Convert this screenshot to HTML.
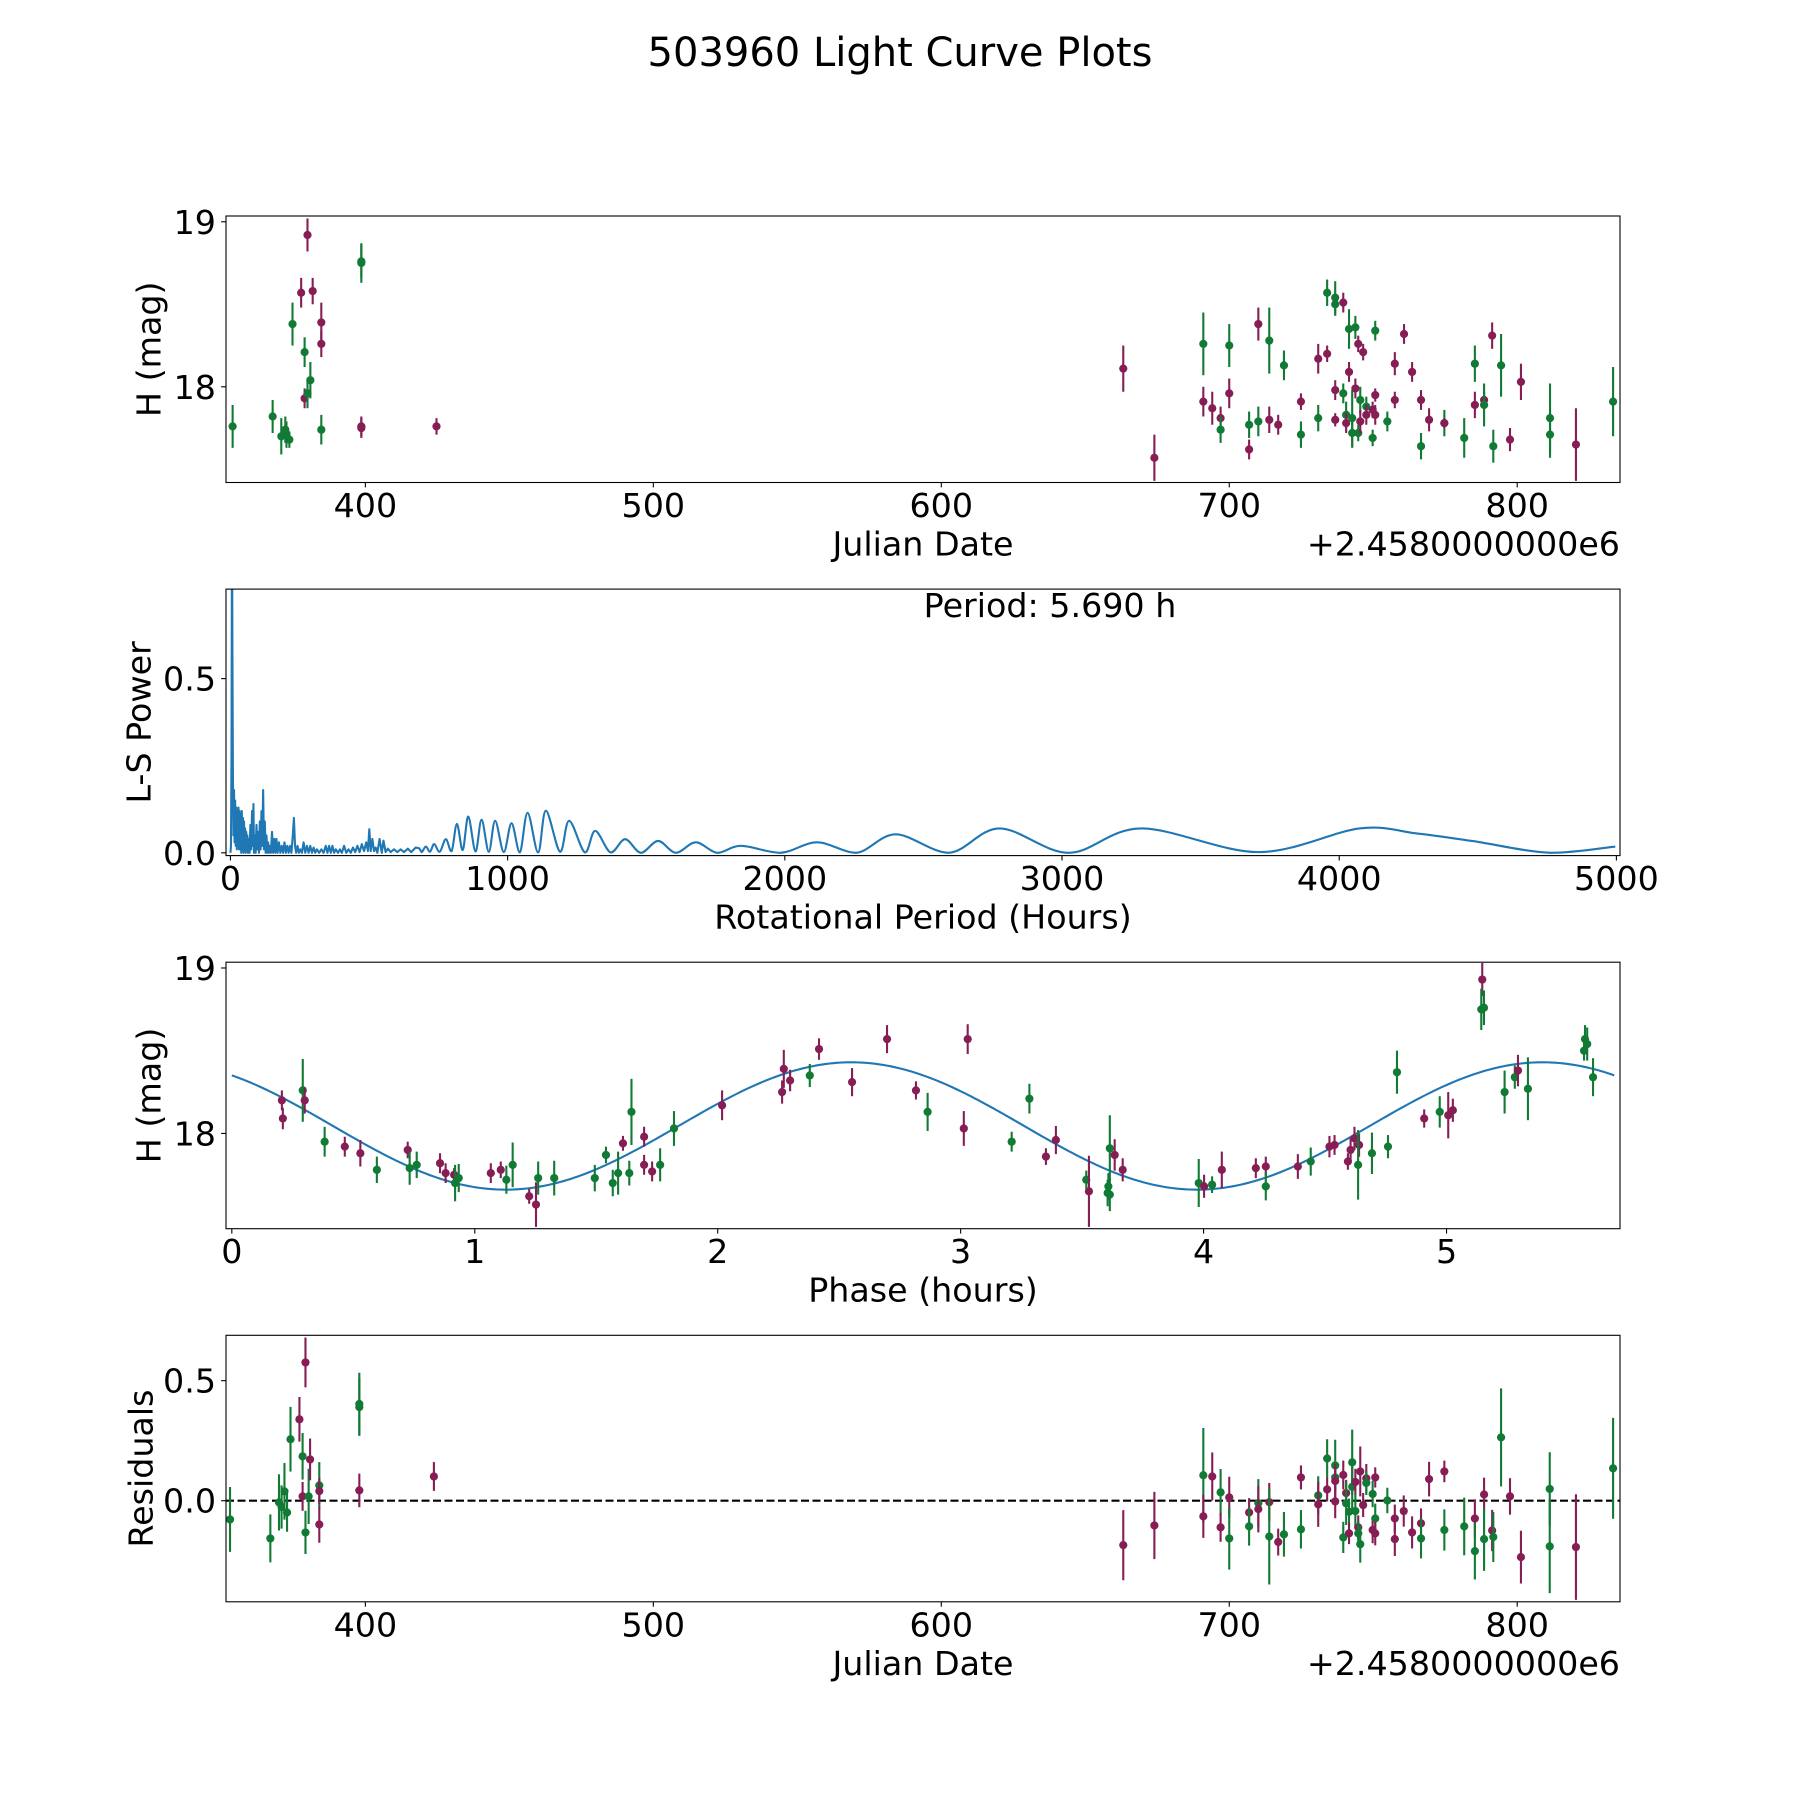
<!DOCTYPE html>
<html><head><meta charset="utf-8"><title>503960 Light Curve Plots</title>
<style>
html,body{margin:0;padding:0;background:#fff;}
svg{display:block;font-family:"DejaVu Sans","Liberation Sans",sans-serif;}
</style></head>
<body>
<svg id="fig" xmlns="http://www.w3.org/2000/svg" width="1800" height="1800" viewBox="0 0 1800 1800">
<rect x="0" y="0" width="1800" height="1800" fill="#fff"/>
<text x="900" y="66" font-size="40" text-anchor="middle" fill="#000">503960 Light Curve Plots</text>
</svg>
<script>
// ---------- Panel 1: light curve vs Julian date ----------
const lcDays = [353.9,367.8,370.8,372.2,372.6,373.6,374.7,377.7,378.9,378.9,379.9,379.9,380.9,381.7,384.7,384.7,384.7,398.6,398.6,398.6,398.6,424.7,
663.2,674,691,691,694.1,697,697,700,700,706.9,706.9,710.1,710.1,713.9,713.9,717,719,724.9,724.9,730.9,730.9,734,734,736.8,736.8,736.8,736.8,739.6,739.6,740.6,740.6,741.6,741.6,742.7,742.7,743.8,743.8,744.8,744.8,745.5,745.5,746.5,747.6,747.6,749.8,749.8,750.7,750.7,750.7,754.9,757.5,757.5,760.7,763.5,766.6,766.6,769.4,774.7,774.7,781.6,785.3,785.3,788.5,788.5,791.3,791.7,794.4,797.5,801.3,811.4,811.4,820.4,833.3];
const lcMags = [17.76,17.82,17.70,17.74,17.71,17.68,18.38,18.57,18.21,17.93,18.92,17.96,18.04,18.58,18.39,18.26,17.74,18.75,18.76,17.76,17.75,17.76,
18.11,17.57,18.26,17.91,17.87,17.81,17.74,18.25,17.96,17.77,17.62,18.38,17.79,18.28,17.80,17.77,18.13,17.91,17.71,18.17,17.81,18.57,18.20,18.54,18.50,17.98,17.80,18.51,17.96,17.83,17.78,18.35,18.09,17.72,17.81,18.36,17.99,18.26,17.72,17.92,17.79,18.21,17.88,17.83,17.86,17.69,18.34,17.95,17.83,17.79,18.14,17.92,18.32,18.09,17.92,17.64,17.80,17.78,17.78,17.69,18.14,17.89,17.92,17.89,18.31,17.64,18.13,17.68,18.03,17.81,17.71,17.65,17.91];
const lcErrs = [.13,.10,.11,.08,.08,.05,.13,.09,.09,.06,.10,.09,.11,.08,.12,.08,.09,.12,.10,.06,.06,.05,
.14,.14,.19,.09,.10,.07,.08,.13,.09,.08,.06,.10,.09,.20,.08,.06,.09,.05,.08,.09,.08,.08,.05,.10,.07,.06,.04,.06,.06,.08,.06,.12,.06,.09,.17,.07,.06,.05,.05,.08,.07,.05,.06,.06,.05,.05,.06,.04,.06,.06,.07,.05,.06,.06,.06,.08,.07,.08,.03,.12,.11,.08,.05,.13,.08,.10,.19,.07,.11,.21,.14,.22,.21];
const lcBands = ['g','g','g','g','g','g','g','m','g','m','m','g','g','m','m','m','g','g','g','m','m','m',
'm','m','g','m','m','m','g','g','m','g','m','m','g','g','m','m','g','m','g','m','g','g','m','g','g','m','m','m','g','g','m','g','m','g','g','g','m','m','g','g','m','m','g','m','m','g','g','m','m','g','m','m','m','m','m','g','m','g','m','g','g','m','m','g','m','g','g','m','m','g','g','m','g'];
const lcXTicks = [400,500,600,700,800];
const lcYTicks = [18,19];

// ---------- Panel 2: Lomb-Scargle periodogram ----------
const periodHours = [0,2,4,5.69,7,9,11,13,15,17,19,21,23,25,27,29,31,33,35,37,39,41,43,45,47,49,51,53,55,57,59,61,63,66,69,72,75,78,81,83,85,88,91,94,97,100,103,106,109,112,115,118,121,124,127,130,133,136,139,142,146,150,154,158,162,166,170,175,180,185,190,195,200,205,210,215,220,225,229,233,237,242,247,252,258,264,270,276,282,288,294,300,306,312,320,328,336,344,350,356,362,368,374,380,388,395,402,410,418,426,434,442,450,458,466,474,482,490,496,501,506,512,518,524,530,538,546,552,560,568,578,590,602,614,626,640,652,668,681,
690,705,720,735,755,777,798,817,838,858,884,906,932,955,986,1014,1044,1072,1110,1138,1189,1222,1279,1316,1372,1424,1481,1543,1607,1679,1757,1842,1984,2116,2258,2400,2592,2775,3024,3286,3708,4073,4276,4479,4763,4996];
const lsPower = [0,0.02,0.3,1.0,0.6,0.22,0.05,0.18,0.03,0.15,0.02,0.13,0.01,0.12,0.02,0.13,0.01,0.12,0.01,0.11,0.0,0.12,0.01,0.10,0.0,0.09,0.01,0.07,0.0,0.06,0.01,0.05,0.0,0.04,0.0,0.08,0.01,0.12,0.02,0.14,0.0,0.05,0.0,0.08,0.01,0.06,0.0,0.09,0.01,0.12,0.02,0.18,0.01,0.09,0.0,0.05,0.0,0.03,0.0,0.02,0.0,0.06,0.0,0.04,0.0,0.04,0.0,0.03,0.0,0.02,0.0,0.03,0.0,0.02,0.0,0.02,0.0,0.05,0.10,0.02,0.0,0.02,0.0,0.01,0.0,0.03,0.0,0.02,0.0,0.02,0.0,0.015,0.0,0.01,0.0,0.01,0.0,0.02,0.0,0.02,0.0,0.02,0.0,0.01,0.0,0.01,0.0,0.02,0.0,0.01,0.0,0.015,0.002,0.02,0.002,0.025,0.005,0.03,0.005,0.068,0.005,0.04,0.005,0.015,0.0,0.04,0.0,0.035,0.002,0.012,0.002,0.01,0.002,0.01,0.002,0.012,0.002,0.015,0.013,
0.002,0.018,0.003,0.025,0.003,0.039,0.005,0.083,0.008,0.104,0.004,0.095,0.003,0.092,0.002,0.085,0.001,0.115,0.001,0.121,0.003,0.092,0.001,0.063,0.001,0.039,0.0,0.034,0.0,0.03,0.0,0.02,0.0,0.03,0.0,0.053,0.0,0.07,0.0,0.07,0.002,0.07,0.056,0.034,0.0,0.018];
const lsXTicks = [0,1000,2000,3000,4000,5000];
const lsYTicks = [0.0,0.5];
const lsYTickLabels = ['0.0','0.5'];
const bestPeriodLabel = ['Period: 5.690 h'];

// ---------- Panel 3: phased light curve ----------
const phHours = [0.206,0.21,0.292,0.30,0.382,0.465,0.529,0.597,0.724,0.732,0.761,0.857,0.88,0.915,0.919,0.934,1.066,1.107,1.13,1.156,1.224,1.252,1.261,1.327,1.494,1.54,1.568,1.59,1.61,1.636,1.645,1.697,1.697,1.73,1.763,1.82,2.018,2.265,2.272,2.298,2.379,2.417,2.553,2.697,2.816,
2.864,3.029,3.013,3.21,3.283,3.351,3.392,3.517,3.528,3.605,3.608,3.614,3.614,3.634,3.667,3.98,4.002,4.035,4.075,4.215,4.256,4.256,4.388,4.441,4.518,4.539,4.594,4.605,4.621,4.64,4.636,4.693,4.759,4.796,4.908,4.972,5.007,5.026,5.147,5.143,5.154,5.239,5.281,5.294,5.335,5.566,5.57,5.579,5.603];
const phMags = [18.20,18.09,18.26,18.20,17.95,17.92,17.88,17.78,17.90,17.79,17.81,17.82,17.76,17.75,17.70,17.73,17.76,17.78,17.72,17.81,17.62,17.57,17.73,17.73,17.73,17.87,17.70,17.76,17.94,17.76,18.13,17.98,17.81,17.77,17.81,18.03,18.17,18.25,18.39,18.32,18.35,18.51,18.31,18.57,18.26,
18.13,18.57,18.03,17.95,18.21,17.86,17.96,17.72,17.65,17.64,17.68,17.63,17.91,17.87,17.78,17.70,17.68,17.69,17.78,17.79,17.80,17.68,17.80,17.83,17.92,17.93,17.83,17.90,17.97,17.93,17.81,17.88,17.92,18.37,18.09,18.13,18.11,18.14,18.93,18.75,18.76,18.25,18.34,18.38,18.27,18.50,18.57,18.54,18.34];
const phErrs = [.06,.065,.19,.08,.09,.06,.08,.08,.05,.10,.08,.06,.06,.04,.11,.085,.06,.05,.085,.135,.045,.135,.10,.105,.08,.05,.08,.13,.045,.075,.20,.06,.06,.06,.10,.105,.09,.07,.115,.065,.07,.065,.085,.085,.055,
.115,.09,.105,.06,.09,.05,.085,.055,.215,.08,.08,.10,.20,.095,.07,.145,.07,.05,.11,.06,.06,.085,.075,.085,.065,.06,.05,.07,.07,.07,.21,.125,.07,.13,.055,.095,.14,.07,.10,.125,.105,.13,.07,.095,.19,.06,.085,.10,.115];
const phBands = ['m','m','g','m','g','m','m','g','m','g','g','m','m','m','g','g','m','m','g','g','m','m','g','g','g','g','g','g','m','g','g','m','m','m','g','g','m','m','m','m','g','m','m','m','m',
'g','m','m','g','g','m','m','g','m','g','g','g','g','m','m','g','m','g','m','m','m','g','m','g','m','m','m','m','m','m','g','g','g','g','m','g','m','m','m','g','g','g','g','m','g','g','g','g','g'];
const fitMean = [18.045];
const fitAmp = [0.385];
const fitPeakPhase = [2.55];
const fitHalfPeriod = [2.845];
const phXTicks = [0,1,2,3,4,5];
const phYTicks = [18,19];

// ---------- Panel 4: residuals ----------
const resDays = [353.0,367.0,370.0,370.9,371.9,372.8,374.0,377.1,378.2,378.2,379.2,379.2,380.3,380.8,384.0,384.0,384.0,397.9,397.9,397.9,423.8,
663.2,674,691,691,694.1,697,697,700,700,706.9,706.9,710.1,710.1,713.9,713.9,717,719,724.9,724.9,730.9,730.9,734,734,736.8,736.8,736.8,736.8,739.6,739.6,740.6,740.6,741.6,741.6,742.7,742.7,743.8,743.8,744.8,744.8,745.5,745.5,746.5,747.6,747.6,749.8,749.8,750.7,750.7,750.7,754.9,757.5,757.5,760.6,763.5,766.6,766.6,769.4,774.7,774.7,781.6,785.3,785.3,788.5,788.5,791.3,791.7,794.4,797.5,801.3,811.3,811.3,820.4,833.3];
const resVals = [-0.078,-0.157,-0.007,-0.026,0.039,-0.049,0.256,0.339,0.185,0.018,0.576,-0.132,0.018,0.172,0.064,0.04,-0.099,0.403,0.39,0.043,0.101,
-0.185,-0.103,0.106,-0.065,0.101,0.035,-0.111,0.014,-0.157,-0.049,-0.107,-0.01,-0.035,-0.006,-0.149,-0.172,-0.14,0.097,-0.119,0.022,-0.015,0.176,0.047,0.147,0.097,0.082,-0.003,0.107,-0.153,0.032,-0.011,-0.046,-0.136,0.16,0.058,0.078,-0.043,-0.111,-0.136,0.122,-0.181,-0.018,0.093,0.074,0.028,-0.122,0.097,-0.074,-0.136,0.001,-0.074,-0.16,-0.043,-0.132,-0.094,-0.157,0.09,0.122,-0.122,-0.107,-0.074,-0.21,0.026,-0.16,-0.124,-0.151,0.264,0.018,-0.235,0.049,-0.19,-0.193,0.135];
const resErrs = [.135,.10,.117,.09,.118,.08,.135,.093,.097,.06,.104,.09,.115,.087,.097,.055,.076,.13,.12,.07,.06,
.146,.14,.197,.09,.10,.097,.06,.086,.13,.06,.08,.10,.097,.08,.20,.056,.093,.05,.08,.08,.094,.08,.05,.107,.055,.072,.07,.06,.065,.055,.09,.055,.045,.136,.10,.055,.07,.05,.05,.104,.077,.05,.06,.05,.055,.055,.042,.062,.05,.053,.058,.07,.065,.067,.062,.083,.072,.045,.086,.12,.08,.118,.07,.132,.086,.104,.204,.076,.11,.153,.195,.22,.21];
const resBands = ['g','g','g','g','g','g','g','m','g','m','m','g','g','m','g','m','m','g','g','m','m',
'm','m','g','m','m','g','m','m','g','m','g','g','m','m','g','m','g','m','g','g','m','g','m','g','g','m','m','m','g','m','g','g','m','g','g','m','g','m','g','m','g','m','m','g','g','m','m','g','m','g','m','m','m','m','m','g','m','m','g','g','m','g','m','g','m','g','g','m','m','g','g','m','g'];
const resYTicks = [0.0,0.5];
const resYTickLabels = ['0.0','0.5'];

// ---------- layout ----------
const NS = 'http://www.w3.org/2000/svg';
const svg = document.getElementById('fig');
const AX_L = 226, AX_R = 1620, AX_H = 266.5;
const AX_TOPS = [216, 589.1, 962.2, 1335.3];
const FS = 33.3;
const COL = {g:'#117a35', m:'#861e55'};

function mk(tag, attrs, parent) {
  const e = document.createElementNS(NS, tag);
  for (const k in attrs) e.setAttribute(k, attrs[k]);
  (parent || svg).appendChild(e);
  return e;
}
function scale(d0, d1, r0, r1) { return v => r0 + (v - d0) * (r1 - r0) / (d1 - d0); }

function makeAxes(i, name, xlim, ylim) {
  const top = AX_TOPS[i], bot = top + AX_H;
  const g = mk('g', {});
  
  
  const clipId = 'clip' + i;
  const cp = mk('clipPath', {id: clipId}, g);
  mk('rect', {x: AX_L, y: top, width: AX_R - AX_L, height: AX_H}, cp);
  const plot = mk('g', {'clip-path': 'url(#' + clipId + ')'}, g);
  
  
  return {g, plot, top, bot, x: scale(xlim[0], xlim[1], AX_L, AX_R), y: scale(ylim[0], ylim[1], bot, top)};
}
function frame(ax, name) {
  const r = mk('rect', {x: AX_L, y: ax.top, width: AX_R - AX_L, height: AX_H, fill: 'none', stroke: '#000', 'stroke-width': 1.1}, ax.g);
  
  
}
function xTicks(ax, vals, labels, name) {
  vals.forEach((v, k) => {
    const px = ax.x(v);
    const t = mk('line', {x1: px, x2: px, y1: ax.bot, y2: ax.bot + 4.9, stroke: '#000', 'stroke-width': 1.1}, ax.g);
    
    
    const tx = mk('text', {x: px, y: ax.bot + 34.5, 'font-size': FS, 'text-anchor': 'middle'}, ax.g);
    
    
    tx.textContent = labels[k];
  });
}
function yTicks(ax, vals, labels, name) {
  vals.forEach((v, k) => {
    const py = ax.y(v);
    const t = mk('line', {x1: AX_L - 4.9, x2: AX_L, y1: py, y2: py, stroke: '#000', 'stroke-width': 1.1}, ax.g);
    
    
    const tx = mk('text', {x: AX_L - 10, y: py + 12, 'font-size': FS, 'text-anchor': 'end'}, ax.g);
    
    
    tx.textContent = labels[k];
  });
}
function xLabel(ax, text, name) {
  const t = mk('text', {x: (AX_L + AX_R) / 2, y: ax.bot + 73, 'font-size': FS, 'text-anchor': 'middle'}, ax.g);
  
  
  t.textContent = text;
}
function yLabel(ax, text, cx, name) {
  const cy = (ax.top + ax.bot) / 2;
  const t = mk('text', {x: cx, y: cy, 'font-size': FS, 'text-anchor': 'middle', 'dominant-baseline': 'central', transform: 'rotate(-90 ' + cx + ' ' + cy + ')'}, ax.g);
  
  
  t.textContent = text;
}
function offsetText(ax, name) {
  const t = mk('text', {x: AX_R, y: ax.bot + 73, 'font-size': FS, 'text-anchor': 'end'}, ax.g);
  
  
  t.textContent = '+2.4580000000e6';
}
function errPoints(ax, xs, ys, es, bands, name) {
  xs.forEach((xv, k) => {
    const px = ax.x(xv), py = ax.y(ys[k]);
    const c = COL[bands[k]];
    const l = mk('line', {x1: px, x2: px, y1: ax.y(ys[k] - es[k]), y2: ax.y(ys[k] + es[k]), stroke: c, 'stroke-width': 2.1}, ax.plot);
    
    
    const p = mk('circle', {cx: px, cy: py, r: 4.1, fill: c}, ax.plot);
    
    
  });
}

// Panel 1
const ax1 = makeAxes(0, 'light-curve-panel', [351.6, 835.7], [17.42, 19.035]);
errPoints(ax1, lcDays, lcMags, lcErrs, lcBands, 'light-curve');
frame(ax1, 'light-curve');
xTicks(ax1, lcXTicks, lcXTicks.map(String), 'light-curve');
yTicks(ax1, lcYTicks, lcYTicks.map(String), 'light-curve');
xLabel(ax1, 'Julian Date', 'light-curve-x-axis-title');
offsetText(ax1, 'light-curve-x-offset');
yLabel(ax1, 'H (mag)', 149, 'light-curve-y-axis-title');

// Panel 2
const ax2 = makeAxes(1, 'periodogram-panel', [-16, 5013], [-0.008, 0.757]);
(function () {
  let d = '';
  const n = periodHours.length;
  const pts = periodHours.map((h, k) => [ax2.x(h), ax2.y(lsPower[k])]);
  const smoothStart = periodHours.indexOf(690);
  d = 'M' + pts[0][0].toFixed(2) + ' ' + pts[0][1].toFixed(2);
  const base = ax2.y(0);
  for (let k = 1; k < n; k++) {
    if (k <= smoothStart) { d += ' L' + pts[k][0].toFixed(2) + ' ' + pts[k][1].toFixed(2); continue; }
    const p0 = pts[Math.max(k - 2, 0)], p1 = pts[k - 1], p2 = pts[k], p3 = pts[Math.min(k + 1, n - 1)];
    const c1x = p1[0] + (p2[0] - p0[0]) / 6, c1y = Math.min(base, p1[1] + (p2[1] - p0[1]) / 6);
    const c2x = p2[0] - (p3[0] - p1[0]) / 6, c2y = Math.min(base, p2[1] - (p3[1] - p1[1]) / 6);
    d += ' C' + c1x.toFixed(2) + ' ' + c1y.toFixed(2) + ' ' + c2x.toFixed(2) + ' ' + c2y.toFixed(2) + ' ' + p2[0].toFixed(2) + ' ' + p2[1].toFixed(2);
  }
  const path = mk('path', {d: d, fill: 'none', stroke: '#1f77b4', 'stroke-width': 2.1, 'stroke-linejoin': 'round'}, ax2.plot);
  
  
})();
frame(ax2, 'periodogram');
xTicks(ax2, lsXTicks, lsXTicks.map(String), 'periodogram');
yTicks(ax2, lsYTicks, lsYTickLabels, 'periodogram');
xLabel(ax2, 'Rotational Period (Hours)', 'periodogram-x-axis-title');
yLabel(ax2, 'L-S Power', 139, 'periodogram-y-axis-title');
(function () {
  const t = mk('text', {x: 1050, y: 617, 'font-size': FS, 'text-anchor': 'middle'}, ax2.g);
  
  
  t.textContent = bestPeriodLabel[0];
})();

// Panel 3
const ax3 = makeAxes(2, 'phased-curve-panel', [-0.024, 5.714], [17.424, 19.035]);
(function () {
  let d = '';
  for (let k = 0; k <= 400; k++) {
    const ph = 5.69 * k / 400;
    const m = fitMean[0] + fitAmp[0] * Math.cos(2 * Math.PI * (ph - fitPeakPhase[0]) / fitHalfPeriod[0]);
    d += (k ? ' L' : 'M') + ax3.x(ph).toFixed(2) + ' ' + ax3.y(m).toFixed(2);
  }
  const p = mk('path', {d: d, fill: 'none', stroke: '#1f77b4', 'stroke-width': 2.1}, ax3.plot);
  
  
})();
errPoints(ax3, phHours, phMags, phErrs, phBands, 'phased');
frame(ax3, 'phased');
xTicks(ax3, phXTicks, phXTicks.map(String), 'phased');
yTicks(ax3, phYTicks, phYTicks.map(String), 'phased');
xLabel(ax3, 'Phase (hours)', 'phased-x-axis-title');
yLabel(ax3, 'H (mag)', 149, 'phased-y-axis-title');

// Panel 4
const ax4 = makeAxes(3, 'residuals-panel', [351.6, 835.7], [-0.421, 0.689]);
(function () {
  const l = mk('line', {x1: AX_L, x2: AX_R, y1: ax4.y(0), y2: ax4.y(0), stroke: '#000', 'stroke-width': 2.1, 'stroke-dasharray': '8 3.5'}, ax4.plot);
  
  
})();
errPoints(ax4, resDays, resVals, resErrs, resBands, 'residual');
frame(ax4, 'residuals');
xTicks(ax4, lcXTicks, lcXTicks.map(String), 'residuals');
yTicks(ax4, resYTicks, resYTickLabels, 'residuals');
xLabel(ax4, 'Julian Date', 'residuals-x-axis-title');
offsetText(ax4, 'residuals-x-offset');
yLabel(ax4, 'Residuals', 141, 'residuals-y-axis-title');
</script>
</body></html>
